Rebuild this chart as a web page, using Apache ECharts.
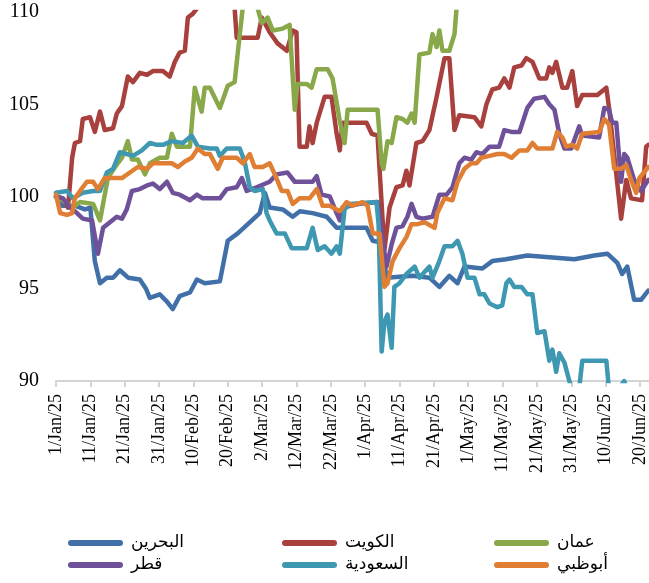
<!DOCTYPE html>
<html>
<head>
<meta charset="utf-8">
<script src="https://cdn.jsdelivr.net/npm/echarts@6/dist/echarts.min.js"></script>
<style>
  html, body { margin: 0; padding: 0; background: #fff; }
  #chart { width: 649px; height: 583px; }
</style>
</head>
<body>
<div id="chart"></div>
<script>
// day index counted from 1 Jan 2025
const names = ['البحرين', 'الكويت', 'عمان', 'قطر', 'السعودية', 'أبوظبي'];
const months = ['Jan', 'Feb', 'Mar', 'Apr', 'May', 'Jun', 'Jul'];

const bahrain = [
  [0, 100], [1.7, 99.5], [5.5, 99.5], [8.4, 99.3], [10, 99.4], [11.3, 96.5], [12.8, 95.3],
  [14.8, 95.6], [16.6, 95.6], [18.6, 96.0], [21, 95.6], [24.4, 95.5], [26.2, 95.0], [27.3, 94.5],
  [30.2, 94.7], [32.3, 94.3], [34, 93.9], [36, 94.6], [39, 94.8], [41, 95.5], [43.3, 95.3],
  [47.7, 95.4], [50, 97.6], [52.9, 98.0], [56.4, 98.6], [59.3, 99.1], [60.8, 100.2], [62.2, 99.4],
  [66, 99.3], [68.9, 98.9], [71, 99.2], [74.7, 99.1], [78.8, 98.9], [81.7, 98.3], [90.4, 98.3],
  [92.2, 97.6], [94.8, 97.5], [96.2, 95.6], [103.8, 95.7], [108.7, 95.6], [111.6, 95.1],
  [114.5, 95.7], [116.9, 95.3], [118.9, 96.2], [124.1, 96.1], [127, 96.5], [131, 96.6],
  [137.2, 96.8], [150.9, 96.6], [156.7, 96.8], [160.5, 96.9], [163.4, 96.4], [164.8, 95.8],
  [166.3, 96.2], [168.3, 94.4], [170.3, 94.4], [172.4, 94.9]
];

const kuwait = [
  [0, 100], [2, 99.9], [3.5, 99.4], [4.7, 102.1], [5.5, 102.9], [7, 103.0], [7.8, 104.2],
  [9.9, 104.3], [11.3, 103.5], [12.8, 104.6], [14.2, 103.6], [16.6, 103.7], [17.7, 104.5],
  [19.2, 104.9], [20.9, 106.5], [22.4, 106.2], [24.4, 106.7], [26.5, 106.6], [28.2, 106.8],
  [31.1, 106.8], [33.1, 106.5], [34.6, 107.3], [36, 107.8], [37.5, 107.9], [38.4, 109.7],
  [39.8, 109.9], [41.9, 110.4], [46.2, 110.6], [50.6, 110.5], [52, 110.2], [52.6, 108.6],
  [54.4, 108.6], [58.7, 108.6], [59.9, 109.7], [62.2, 108.9], [64.5, 108.3], [67.2, 107.9],
  [68.9, 109.0], [70, 108.9], [70.9, 102.7], [73, 102.7], [73.8, 103.8], [74.7, 102.9],
  [75.9, 104.0], [78.2, 105.4], [80.2, 105.4], [81.7, 103.4], [82.6, 102.5], [83.4, 104.0],
  [90.4, 104.0], [91.9, 103.4], [93.6, 103.3], [95.6, 97.1], [97.1, 99.4], [99.1, 100.5],
  [100.9, 100.6], [102, 101.4], [102.9, 100.6], [104.9, 102.9], [106.7, 103.0], [108.7, 103.6],
  [110.8, 105.4], [113.1, 107.5], [114.5, 107.5], [116, 103.6], [117.4, 104.4], [121.8, 104.3],
  [123.8, 103.8], [125.3, 105.0], [127, 105.8], [129, 105.9], [130.5, 106.4], [132, 105.9],
  [133.4, 107.0], [135.5, 107.1], [136.9, 107.5], [138.7, 107.3], [140.7, 106.4], [142.7, 106.4],
  [143.6, 107.0], [144.5, 106.7], [145.6, 107.3], [147.4, 105.9], [148.8, 105.9], [150.3, 106.8],
  [151.7, 104.9], [153.2, 105.5], [157.6, 105.5], [160.2, 105.9], [161, 104.8], [163.4, 100.7],
  [164.5, 98.8], [166, 100.9], [167.4, 99.9], [170.6, 99.8], [171.8, 102.7], [172.4, 102.8]
];

const oman = [
  [0, 100], [2, 99.8], [4.9, 99.4], [7, 99.7], [10.8, 99.6], [12.8, 98.7], [13.7, 99.6],
  [15.1, 101.0], [17.2, 101.6], [19.2, 102.1], [20.9, 103.0], [22.1, 102.0], [23.8, 102.0],
  [25.9, 101.2], [27.3, 101.8], [30.2, 102.1], [32.3, 102.1], [33.7, 103.4], [35.2, 102.7],
  [39, 102.7], [40.4, 105.9], [42.4, 104.6], [43.3, 105.9], [44.8, 105.9], [47.7, 104.8],
  [50, 106.0], [52, 106.2], [53.5, 108.8], [54.4, 110.3], [56.4, 110.5], [58.7, 110.2],
  [59.9, 109.4], [61.6, 109.7], [63.1, 109.0], [66, 109.1], [68, 109.3], [69.5, 104.7],
  [70.3, 106.1], [73, 106.1], [74.4, 105.9], [75.9, 106.9], [79.1, 106.9], [80.5, 106.4],
  [82.6, 104.1], [84, 102.9], [84.9, 104.7], [93.6, 104.7], [94.8, 101.8], [95.3, 101.5],
  [96.5, 103.0], [97.7, 102.9], [99.1, 104.3], [100.9, 104.2], [102.3, 104.0], [103.5, 104.5],
  [104.4, 104.0], [105.8, 107.7], [108.7, 107.8], [109.6, 108.8], [110.8, 108.1], [111.6, 109.0],
  [112.5, 107.9], [114.5, 107.9], [116, 108.8], [116.6, 110.2], [117.4, 111.5]
];

const qatar = [
  [0, 100], [2, 99.9], [4.1, 99.4], [6.1, 99.1], [7.8, 98.8], [10.5, 98.7], [12.2, 96.9],
  [13.7, 98.3], [15.7, 98.6], [17.7, 98.9], [19.2, 98.8], [20.6, 99.3], [22.1, 100.3],
  [24.4, 100.4], [26.5, 100.6], [28.2, 100.7], [30.2, 100.4], [32.3, 100.8], [34, 100.2],
  [36, 100.1], [39, 99.8], [41, 100.1], [42.7, 99.9], [47.7, 99.9], [49.7, 100.4], [52.6, 100.5],
  [54.1, 101.0], [55.5, 100.3], [58.4, 100.5], [62.2, 100.8], [64.2, 101.2], [67.4, 101.3],
  [69.5, 100.8], [74.7, 100.8], [75.9, 101.1], [77.3, 100.1], [79.7, 100.0], [81.7, 99.1],
  [82.6, 98.7], [83.4, 99.4], [88.4, 99.6], [93.6, 99.7], [94.8, 98.0], [96.2, 96.2],
  [97.7, 97.4], [99.1, 98.3], [100.9, 98.4], [102.3, 98.9], [103.5, 99.6], [104.9, 98.9],
  [106.7, 98.8], [109.6, 98.9], [111.6, 100.1], [113.7, 100.1], [115.4, 100.5], [117.4, 101.8],
  [118.9, 102.1], [120.9, 102.0], [122.4, 102.4], [124.1, 102.3], [126.2, 102.7], [129, 102.7],
  [130.5, 103.6], [132.6, 103.5], [134.9, 103.5], [137.2, 104.8], [139.2, 105.3], [142.2, 105.4],
  [143.6, 105.0], [145.1, 104.7], [146.5, 103.4], [148, 102.6], [150, 102.6], [152.3, 103.8],
  [153.2, 103.3], [158.1, 103.2], [159.6, 104.8], [161, 104.7], [161.9, 104.0], [163.1, 104.0],
  [164.5, 100.8], [165.4, 102.3], [166.3, 102.1], [168.3, 100.9], [170.3, 100.3], [172.4, 100.9]
];

const saudi = [
  [0, 100.2], [3.2, 100.3], [4.9, 99.9], [7.8, 100.2], [10.8, 100.3], [12.8, 100.3],
  [14.8, 101.3], [16.6, 101.5], [18.6, 102.4], [20.6, 102.3], [22.4, 102.2], [25, 102.5],
  [27.3, 102.9], [29.4, 102.8], [31.1, 102.8], [33.7, 103.0], [36.9, 102.9], [39.5, 103.3],
  [41.3, 102.7], [44.8, 102.6], [46.8, 102.6], [47.7, 102.2], [49.7, 102.6], [53.5, 102.6],
  [54.9, 101.9], [56.4, 100.5], [57.8, 100.3], [60.2, 100.4], [61.3, 99.1], [62.2, 98.7],
  [64.2, 98.0], [66.6, 98.0], [68.6, 97.2], [73, 97.2], [74.7, 98.3], [76.2, 97.1], [78.2, 97.3],
  [80.2, 96.9], [81.7, 97.3], [82.6, 96.9], [84, 99.3], [85.5, 99.6], [93.3, 99.7], [93.9, 98.5],
  [94.8, 91.6], [95.6, 93.2], [96.5, 93.6], [97.7, 91.8], [98.5, 95.1], [100, 95.3], [102, 95.8],
  [104.4, 96.2], [105.8, 95.6], [108.7, 96.2], [109.6, 95.6], [111.6, 96.5], [113.1, 97.3],
  [115.4, 97.3], [116.9, 97.6], [118.3, 96.9], [119.8, 95.6], [121.8, 95.6], [123.3, 94.7],
  [124.7, 94.7], [126.2, 94.2], [128.5, 94.0], [129.9, 94.1], [131.1, 95.3], [132, 95.5],
  [133.4, 95.1], [135.5, 95.1], [137.2, 94.7], [138.7, 94.7], [140.1, 92.6], [142.2, 92.7],
  [143.6, 91.1], [144.5, 91.7], [145.6, 90.5], [146.5, 91.5], [148, 91.0], [150, 89.6],
  [152.3, 89.6], [153.2, 91.1], [160.2, 91.1], [161, 89.5], [163.9, 89.6], [165.4, 90.0],
  [166.3, 89.5], [172.4, 89.5]
];

const abuDhabi = [
  [0, 100.1], [1.2, 99.1], [3.2, 99.0], [4.7, 99.1], [5.5, 99.9], [7, 100.3], [9, 100.8],
  [10.8, 100.8], [12.2, 100.4], [14.2, 101.0], [19.2, 101.0], [21.5, 101.3], [23.8, 101.6],
  [26.5, 101.5], [28.2, 101.8], [33.7, 101.8], [35.5, 101.6], [37.5, 101.9], [39.5, 102.1],
  [41.3, 102.6], [43.3, 102.3], [44.8, 102.3], [47.1, 101.5], [48.5, 102.1], [52.6, 102.1],
  [54.4, 101.8], [56.4, 102.3], [57.8, 101.6], [60.2, 101.6], [62.2, 101.8], [63.7, 101.2],
  [65.7, 100.3], [67.4, 100.3], [68.9, 99.6], [70.9, 99.9], [73.8, 99.9], [75.9, 100.4],
  [77.6, 99.5], [79.7, 99.5], [82.6, 99.2], [84.6, 99.7], [86.3, 99.5], [89.2, 99.7],
  [90.7, 99.5], [92.2, 98.0], [94.2, 98.0], [95.6, 95.1], [96.5, 95.3], [98, 96.5], [100, 97.2],
  [102, 97.8], [103.5, 98.5], [105.2, 98.5], [107.3, 98.6], [110.2, 98.3], [111, 99.1],
  [113.1, 99.9], [115.4, 99.8], [116.9, 100.8], [118.9, 101.5], [120.9, 101.8], [122.4, 101.8],
  [123.8, 102.1], [126.2, 102.2], [128.5, 102.3], [130.5, 102.3], [132.6, 102.1], [134.9, 102.5],
  [137.2, 102.5], [138.7, 102.9], [140.1, 102.6], [144.5, 102.6], [145.9, 103.5], [147.4, 103.2],
  [148.5, 102.7], [150.3, 102.8], [151.7, 102.6], [153.2, 103.4], [158.1, 103.5], [159.6, 104.2],
  [161, 103.9], [162.5, 101.5], [164.5, 101.5], [166, 101.7], [167.4, 100.9], [168.9, 100.2],
  [169.8, 101.0], [172.4, 101.6]
];

const seriesData = [bahrain, kuwait, oman, qatar, saudi, abuDhabi];
const colors = ['#4170A9', '#A8413D', '#89A84A', '#6E5199', '#3F98B2', '#E07F33'];

const serif = '"Liberation Serif", "Times New Roman", serif';

function dayLabel(v) {
  if (v % 10 !== 0) return '';
  const d = new Date(2025, 0, 1 + v);
  return d.getDate() + '/' + months[d.getMonth()] + '/25';
}

const chart = echarts.init(document.getElementById('chart'));

// one legend block per item so the columns line up like the original
const legendPos = [
  { left: 68, top: 533 }, { left: 282, top: 533 }, { left: 494, top: 533 },
  { left: 68, top: 555 }, { left: 282, top: 555 }, { left: 494, top: 555 }
];

const option = {
  animation: false,
  color: colors,
  grid: { left: 56, right: 0, top: 12, bottom: 202 },
  legend: names.map((n, i) => ({
    data: [n],
    left: legendPos[i].left,
    top: legendPos[i].top,
    padding: 0,
    itemWidth: 55,
    itemHeight: 6,
    icon: 'path://M3,0 H52 A3,3 0 0 1 52,6 H3 A3,3 0 0 1 3,0 Z',
    textStyle: {
      fontFamily: '"DejaVu Sans", sans-serif',
      fontSize: 17,
      color: '#000',
      lineHeight: 20,
      padding: [0, 0, 0, 3]
    }
  })),
  xAxis: {
    type: 'value',
    min: 0,
    max: 172.5,
    interval: 10,
    splitLine: { show: false },
    axisLine: { show: true, lineStyle: { color: '#d4d4d4', width: 2 } },
    axisTick: { show: true, length: 6, lineStyle: { color: '#d4d4d4', width: 2 } },
    axisLabel: {
      rotate: 90,
      margin: 13,
      fontFamily: serif,
      fontSize: 18,
      color: '#000',
      showMaxLabel: false,
      formatter: dayLabel
    }
  },
  yAxis: {
    type: 'value',
    min: 90,
    max: 110,
    interval: 5,
    splitLine: { show: false },
    axisLine: { show: false },
    axisTick: { show: false },
    axisLabel: { margin: 17, fontFamily: serif, fontSize: 20, color: '#000' }
  },
  series: names.map((n, i) => ({
    name: n,
    type: 'line',
    data: seriesData[i],
    showSymbol: false,
    symbol: 'none',
    clip: true,
    lineStyle: { width: 4.5, color: colors[i], cap: 'round', join: 'round' },
    itemStyle: { color: colors[i] }
  }))
};

chart.setOption(option);
</script>
</body>
</html>
